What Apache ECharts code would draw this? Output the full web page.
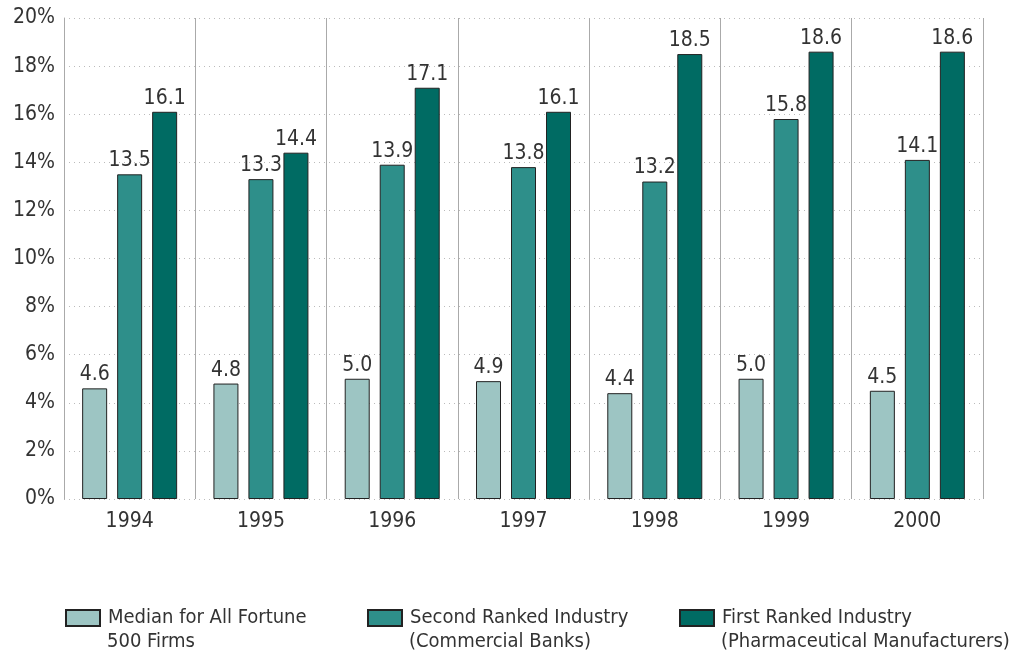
<!DOCTYPE html>
<html><head><meta charset="utf-8">
<script src="https://cdn.jsdelivr.net/npm/echarts@6/dist/echarts.min.js"></script>
<style>html,body{margin:0;padding:0;background:#fff}#c{width:1023px;height:657px}</style>
</head><body><div id="c"></div>
<script>
const years = ['1994','1995','1996','1997','1998','1999','2000'];
const medianAll = [4.6, 4.8, 5.0, 4.9, 4.4, 5.0, 4.5];
const secondRanked = [13.5, 13.3, 13.9, 13.8, 13.2, 15.8, 14.1];
const firstRanked = [16.1, 14.4, 17.1, 16.1, 18.5, 18.6, 18.6];
const seriesNames = ['Median for All Fortune\n500 Firms', 'Second Ranked Industry\n(Commercial Banks)', 'First Ranked Industry\n(Pharmaceutical Manufacturers)'];
const colors = ['#9DC5C3', '#2E8F8A', '#006B63'];

const FONT = '"Liberation Sans Narrow", "DejaVu Sans Condensed", "Roboto Condensed", sans-serif';
const chart = echarts.init(document.getElementById('c'));
const dataSets = [medianAll, secondRanked, firstRanked];
const legendLefts = [65, 367, 679];

chart.setOption({
  animation: false,
  textStyle: {fontFamily: FONT},
  grid: {left: 64, right: 40, top: 18, bottom: 158},
  legend: seriesNames.map((n, i) => ({
    data: [n], left: legendLefts[i], top: 608, itemWidth: 34, itemHeight: 16, padding: 0,
    formatter: name => name.split('\n')[0],
    textStyle: {fontFamily: FONT, fontSize: 20, color: '#333', padding: [0, 0, 0, 3]},
    icon: 'rect'
  })),
  graphic: seriesNames.map((n, i) => ({
    type: 'text', left: legendLefts[i] + 42, top: 632,
    style: {text: n.split('\n')[1], font: '20px ' + FONT, fill: '#333'}
  })),
  xAxis: {
    type: 'category', data: years,
    axisLine: {show: false}, axisTick: {show: false},
    axisLabel: {fontSize: 21, color: '#333', margin: 12, fontFamily: FONT},
    splitLine: {show: true, lineStyle: {color: '#aaaaaa', width: 1}}
  },
  yAxis: {
    type: 'value', min: 0, max: 20, interval: 2,
    axisLine: {show: true, lineStyle: {color: '#aaaaaa'}}, axisTick: {show: false},
    axisLabel: {formatter: '{value}%', fontSize: 21, color: '#333', margin: 9, fontFamily: FONT},
    splitLine: {show: true, lineStyle: {color: '#bbbbbb', type: [1, 4]}}
  },
  series: dataSets.map((d, i) => ({
    name: seriesNames[i], type: 'bar', data: d,
    barWidth: 25, barGap: '40%',
    itemStyle: {color: colors[i], borderColor: '#222', borderWidth: 1},
    label: {show: true, position: 'top', distance: 3, formatter: p => p.value.toFixed(1), fontSize: 21, color: '#333', fontFamily: FONT}
  }))
});
</script></body></html>
